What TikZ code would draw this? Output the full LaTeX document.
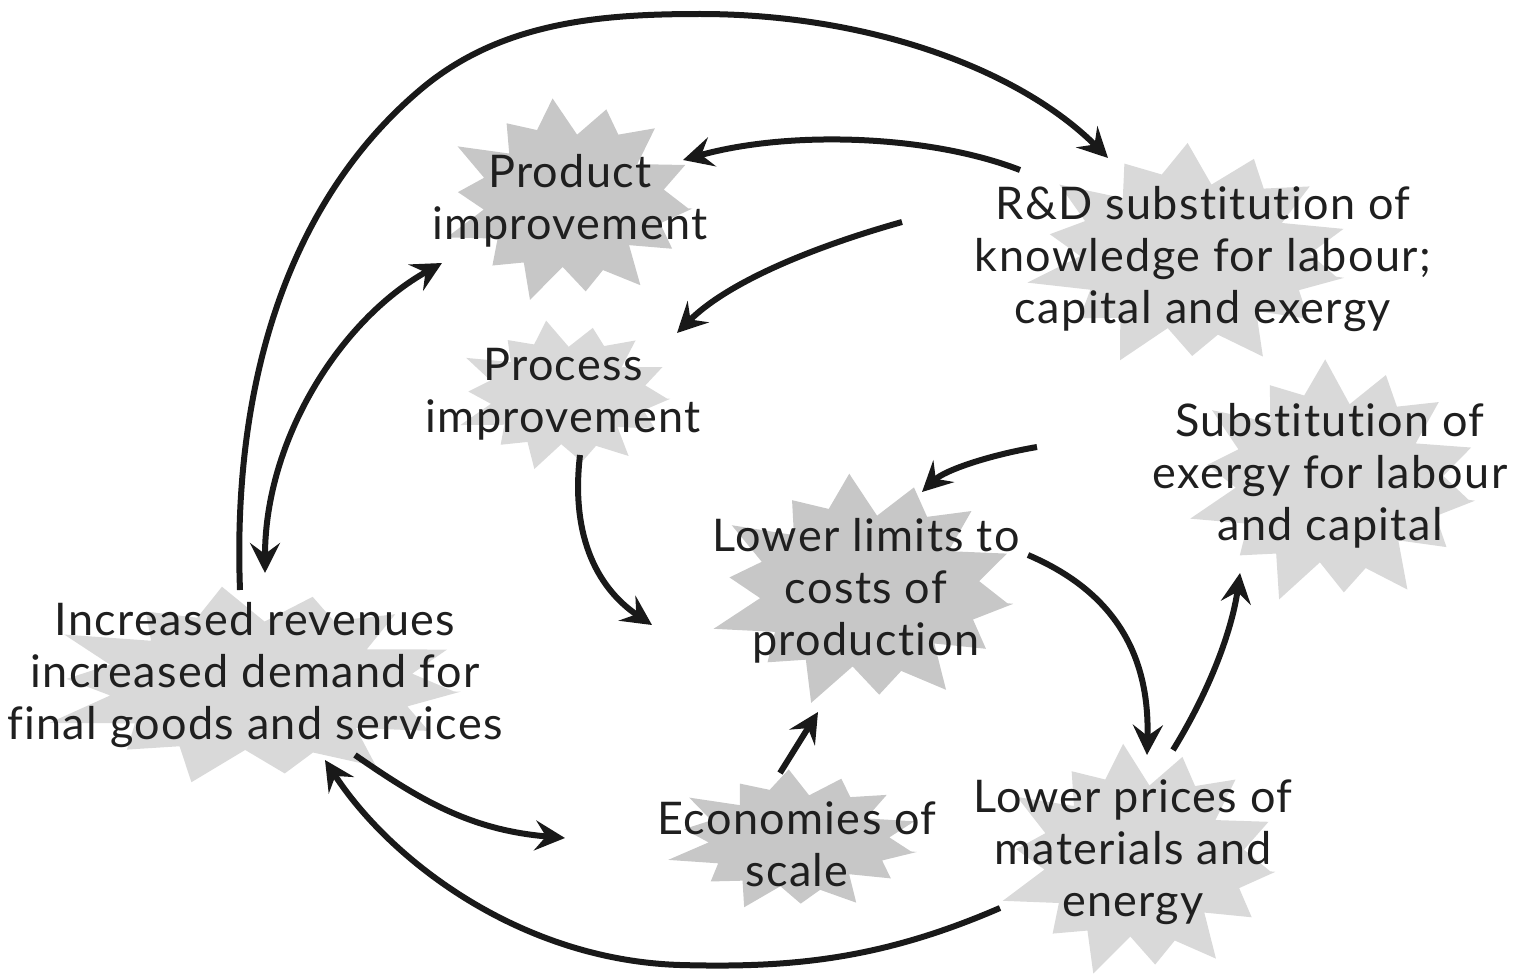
\documentclass[tikz,border=0pt]{standalone}
\usepackage{fontspec}
\setmainfont{Lato}[Ligatures=NoCommon, LetterSpace=3]
\usetikzlibrary{arrows.meta}
\tikzset{
  lbl/.style={align=center, inner sep=0pt, text=black!88,
    font=\fontsize{22.5}{26}\selectfont},
  burstdark/.style={fill=black!22},
  burstlight/.style={fill=black!15},
  conn/.style={line width=3pt, draw=black!90,
    -{Stealth[length=15pt,width=15pt,inset=5.5pt]}},
  conn2/.style={line width=3pt, draw=black!90,
    {Stealth[length=15pt,width=15pt,inset=5.5pt]}-{Stealth[length=15pt,width=15pt,inset=5.5pt]}},
}
% starburst: centre x, centre y, rx, ry, phase, style
\newcommand\starburst[6]{%
  \fill[#6] plot[samples=29, domain=0:28, variable=\k]
   ({#1+ifthenelse(mod(round(\k),2)==0,1,0.72)*#3*(1+0.08*sin(\k*97+#5))*cos(\k*360/28+#5)},
    {#2+ifthenelse(mod(round(\k),2)==0,1,0.72)*#4*(1+0.08*sin(\k*97+#5))*sin(\k*360/28+#5)}) -- cycle;}
\begin{document}
\begin{tikzpicture}[x=0.5pt,y=-0.5pt]
\useasboundingbox (0,0) rectangle (1521,974);
% bursts
\starburst{570}{200}{122}{98}{5}{burstdark}
\starburst{1190}{255}{155}{108}{12}{burstlight}
\starburst{565}{395}{105}{72}{3}{burstlight}
\starburst{1335}{482}{140}{118}{9}{burstlight}
\starburst{865}{590}{148}{112}{7}{burstdark}
\starburst{255}{685}{205}{95}{4}{burstlight}
\starburst{795}{840}{122}{68}{10}{burstdark}
\starburst{1140}{860}{135}{112}{6}{burstlight}
% labels
\node[lbl] (prod) at (570,201) {Product\\improvement};
\node[lbl] (rd) at (1203,259) {R\&D substitution of\\knowledge for labour;\\capital and exergy};
\node[lbl] (proc) at (563,394) {Process\\improvement};
\node[lbl] (subst) at (1330,476) {Substitution of\\exergy for labour\\and capital};
\node[lbl] (lower) at (866,591) {Lower limits to\\costs of\\production};
\node[lbl] (incr) at (255,675) {Increased revenues\\increased demand for\\final goods and services};
\node[lbl] (econ) at (797,844) {Economies of\\scale};
\node[lbl] (prices) at (1133,852) {Lower prices of\\materials and\\energy};
% connector end points
\coordinate (incrT) at (240,590);
\coordinate (rdT) at (1108,158);
\coordinate (rdL1) at (1020,170);
\coordinate (prodR) at (683,160);
\coordinate (rdL2) at (902,222);
\coordinate (procR) at (677,333);
\coordinate (prodL) at (442,263);
\coordinate (incrT2) at (265,573);
\coordinate (procB) at (580,455);
\coordinate (lowerL) at (652,625);
\coordinate (substL) at (1037,447);
\coordinate (lowerT) at (922,492);
\coordinate (lowerR) at (1028,555);
\coordinate (pricesT1) at (1147,755);
\coordinate (pricesT2) at (1173,750);
\coordinate (substB) at (1240,573);
\coordinate (econT) at (780,773);
\coordinate (lowerB) at (818,712);
\coordinate (incrB) at (355,755);
\coordinate (econL) at (565,838);
\coordinate (pricesL) at (1000,908);
\coordinate (incrB2) at (325,760);
% connectors
\draw[conn] (incrT) .. controls (232,380) and (290,200) .. (420,90)
  .. controls (500,22) and (600,14) .. (700,14)
  .. controls (870,14) and (1020,70) .. (rdT);
\draw[conn] (rdL1) .. controls (930,135) and (790,130) .. (prodR);
\draw[conn] (rdL2) .. controls (820,245) and (730,280) .. (procR);
\draw[conn2] (prodL) .. controls (340,320) and (265,440) .. (incrT2);
\draw[conn] (procB) .. controls (570,540) and (600,590) .. (lowerL);
\draw[conn] (substL) .. controls (990,455) and (945,470) .. (lowerT);
\draw[conn] (lowerR) .. controls (1110,590) and (1150,650) .. (pricesT1);
\draw[conn] (pricesT2) .. controls (1210,690) and (1232,630) .. (substB);
\draw[conn] (econT) -- (lowerB);
\draw[conn] (incrB) .. controls (420,800) and (470,830) .. (econL);
\draw[conn] (pricesL) .. controls (880,960) and (790,968) .. (680,965)
  .. controls (520,960) and (390,860) .. (incrB2);
\end{tikzpicture}
\end{document}
